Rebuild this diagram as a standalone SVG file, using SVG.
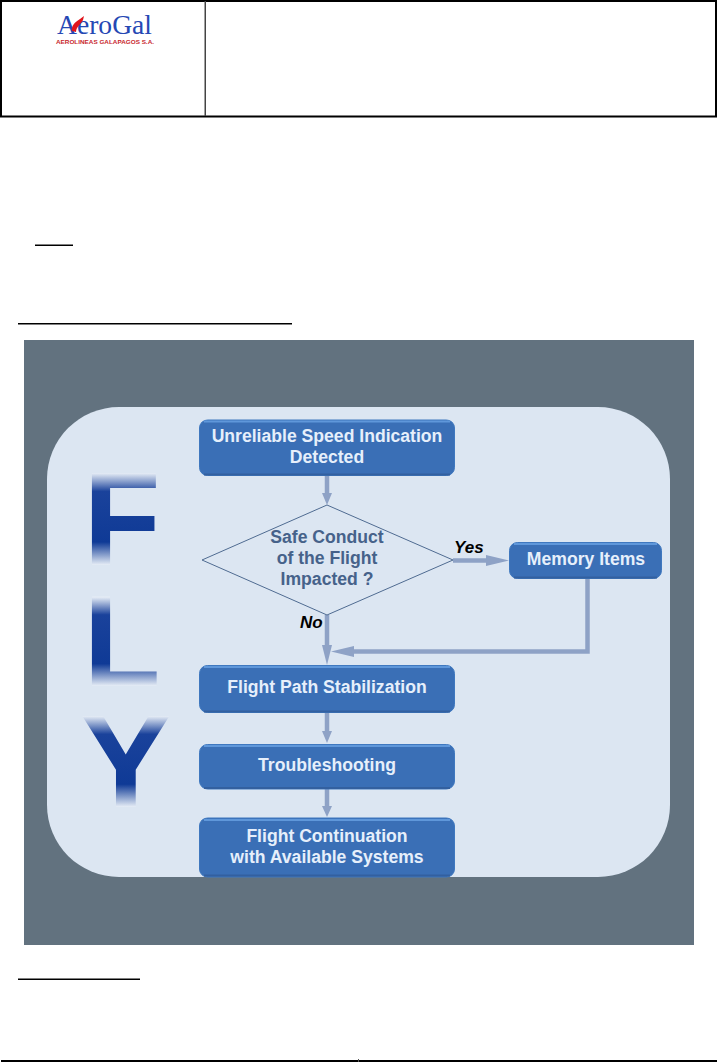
<svg xmlns="http://www.w3.org/2000/svg" width="717" height="1062" viewBox="0 0 717 1062">
<style>
.t{font-family:"Liberation Sans",Arial,sans-serif;font-weight:700;font-size:17.600px;fill:#e6effb;text-anchor:middle}
.d{font-family:"Liberation Sans",Arial,sans-serif;font-weight:700;font-size:17.600px;fill:#46628a;text-anchor:middle}
.l{font-family:"Liberation Sans",Arial,sans-serif;font-weight:700;font-style:italic;font-size:17px;fill:#000}
.b{fill:#3a6fb6;stroke:#3f78bf;stroke-width:1}
.h{fill:none;stroke:#5f97da;stroke-width:2}
.s{fill:none;stroke:#33609f;stroke-width:2}
.c{fill:none;stroke:#8ea2c6;stroke-width:4.500}
.a{fill:#8ea2c6}
.r{fill:#000}
</style>
<defs>
<linearGradient id="gf" gradientUnits="userSpaceOnUse" x1="0" y1="473" x2="0" y2="565"><stop offset="0" stop-color="#e6edf6"/><stop offset=".2" stop-color="#1a429b"/><stop offset=".75" stop-color="#0f3a96"/><stop offset="1" stop-color="#e6edf6"/></linearGradient>
<linearGradient id="gl" gradientUnits="userSpaceOnUse" x1="0" y1="597" x2="0" y2="686"><stop offset="0" stop-color="#e6edf6"/><stop offset=".2" stop-color="#1a429b"/><stop offset=".75" stop-color="#0f3a96"/><stop offset="1" stop-color="#e6edf6"/></linearGradient>
<linearGradient id="gy" gradientUnits="userSpaceOnUse" x1="0" y1="716" x2="0" y2="807"><stop offset="0" stop-color="#e6edf6"/><stop offset=".2" stop-color="#1a429b"/><stop offset=".75" stop-color="#0f3a96"/><stop offset="1" stop-color="#e6edf6"/></linearGradient>
</defs>
<rect width="717" height="1062" fill="#fff"/>
<g id="header">
<rect x="1" y="1" width="715" height="115.500" fill="#fff" stroke="#000" stroke-width="2"/>
<rect x="204.500" y="1" width="1.500" height="115" fill="#444"/>
<text x="57" y="34" font-family="'Liberation Serif',serif" font-size="26.500" fill="#2548b4" textLength="95" lengthAdjust="spacingAndGlyphs">AeroGal</text>
<path d="M72 31 C71 26 75 22 80 19 L84 16 L83 20 C81 24 76 27 76 32 Z" fill="#e0141c"/>
<text x="56" y="43.500" font-family="'Liberation Sans',sans-serif" font-weight="700" font-size="6" fill="#c8262c" textLength="98" lengthAdjust="spacingAndGlyphs">AEROLINEAS GALAPAGOS S.A.</text>
</g>
<g id="rules">
<rect class="r" x="35" y="244.500" width="38" height="1.500"/>
<rect class="r" x="18" y="323" width="274" height="1.500"/>
<rect class="r" x="18" y="978.500" width="122" height="1.500"/>
<rect class="r" x="1" y="1060" width="716" height="2"/>
<rect x="358" y="1059" width="1" height="3" fill="#555"/>
</g>
<rect id="frame" x="24" y="340" width="670" height="605" fill="#62727f"/>
<rect id="panel" x="47" y="407" width="623" height="470" rx="72" ry="72" fill="#dce6f2"/>
<g id="letters" font-family="'Liberation Sans',sans-serif" font-weight="700">
<text transform="scale(.94 1)" x="88.800" y="565" font-size="134" fill="url(#gf)">F</text>
<text transform="scale(.97 1)" x="86" y="686" font-size="130" fill="url(#gl)">L</text>
<text transform="scale(1.04 1)" x="77" y="807" font-size="132" fill="url(#gy)">Y</text>
</g>
<g id="connectors">
<path class="c" d="M327 476V494"/><path class="a" d="M322 493H332L327 505Z"/>
<path class="c" d="M453 560.500H488"/><path class="a" d="M486 555L509 560.500L486 566Z"/>
<path class="c" d="M327 615V650"/><path class="a" d="M322 645H332L327 665Z"/>
<path class="c" d="M587.500 579V651.500H350"/><path class="a" d="M354 646V657L331 651.500Z"/>
<path class="c" d="M327 713V733"/><path class="a" d="M322 731H332L327 743Z"/>
<path class="c" d="M327 789V807"/><path class="a" d="M322 806H332L327 817Z"/>
</g>
<g id="n1"><rect class="b" x="199.500" y="420" width="255" height="55.500" rx="8"/><path class="h" d="M204 421.500H450"/><path class="s" d="M204 474.500H450"/><text class="t" x="327" y="441.500">Unreliable Speed Indication</text><text class="t" x="327" y="462.500">Detected</text></g>
<g id="n2"><path d="M327 505L453 560L327 615L202 560Z" fill="#dce6f2" stroke="#4f6b91" stroke-width="1"/><text class="d" x="327" y="543">Safe Conduct</text><text class="d" x="327" y="564">of the Flight</text><text class="d" x="327" y="585">Impacted ?</text></g>
<g id="n3"><rect class="b" x="509.500" y="542.500" width="152" height="36" rx="8"/><path class="h" d="M514 544H657"/><path class="s" d="M514 577.500H657"/><text class="t" x="586" y="565">Memory Items</text></g>
<g id="n4"><rect class="b" x="199.500" y="665.500" width="255" height="47" rx="8"/><path class="h" d="M204 667H450"/><path class="s" d="M204 711.500H450"/><text class="t" x="327" y="693">Flight Path Stabilization</text></g>
<g id="n5"><rect class="b" x="199.500" y="744.500" width="255" height="44.500" rx="8"/><path class="h" d="M204 746H450"/><path class="s" d="M204 788H450"/><text class="t" x="327" y="771">Troubleshooting</text></g>
<g id="n6"><rect class="b" x="199.500" y="818" width="255" height="59" rx="8"/><path class="h" d="M204 820H450"/><path class="s" d="M204 875.500H450"/><text class="t" x="327" y="842">Flight Continuation</text><text class="t" x="327" y="863">with Available Systems</text></g>
<g id="labels"><text class="l" x="454" y="553">Yes</text><text class="l" x="300" y="628">No</text></g>
</svg>
